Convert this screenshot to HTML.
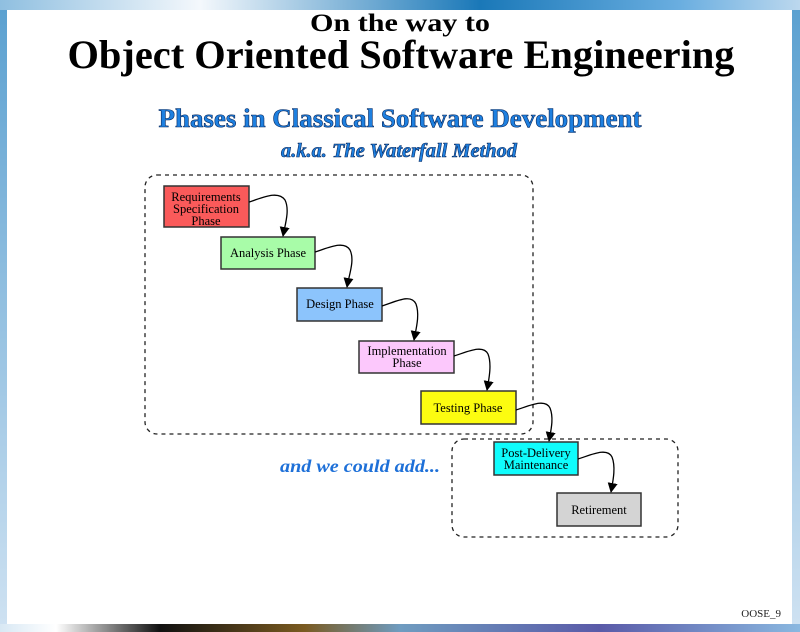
<!DOCTYPE html>
<html><head><meta charset="utf-8"><style>
html,body{margin:0;padding:0;width:800px;height:632px;overflow:hidden;background:#fff}
</style></head><body>
<svg width="800" height="632" viewBox="0 0 800 632" xmlns="http://www.w3.org/2000/svg" font-family="Liberation Serif, serif">
<defs>
<linearGradient id="top" x1="0" x2="1" y1="0" y2="0">
<stop offset="0" stop-color="#8fbfe0"/><stop offset="0.25" stop-color="#f4f8fc"/><stop offset="0.6" stop-color="#1a78b8"/><stop offset="0.85" stop-color="#6aaee0"/><stop offset="1" stop-color="#bcd8ee"/></linearGradient>
<linearGradient id="bot" x1="0" x2="1" y1="0" y2="0">
<stop offset="0" stop-color="#d8e8f4"/><stop offset="0.07" stop-color="#ffffff"/><stop offset="0.2" stop-color="#111"/><stop offset="0.38" stop-color="#7a5a20"/><stop offset="0.5" stop-color="#6f9cc0"/><stop offset="0.75" stop-color="#5a5aa8"/><stop offset="1" stop-color="#8ab8e0"/></linearGradient>
<linearGradient id="side" x1="0" x2="0" y1="0" y2="1">
<stop offset="0" stop-color="#5aa0d0"/><stop offset="1" stop-color="#cfe2f2"/></linearGradient>
<marker id="ah" markerWidth="10" markerHeight="10" refX="9" refY="5" orient="auto" markerUnits="userSpaceOnUse"><path d="M0,0 L10,5 L0,10 z" fill="#000"/></marker>
</defs>
<rect x="0" y="0" width="800" height="632" fill="url(#side)"/>
<rect x="0" y="0" width="800" height="10" fill="url(#top)"/>
<rect x="0" y="624" width="800" height="8" fill="url(#bot)"/>
<rect x="7" y="10" width="785" height="614" fill="#fff"/>

<text x="400" y="31" text-anchor="middle" font-size="25" font-weight="bold" textLength="180" lengthAdjust="spacingAndGlyphs">On the way to</text>
<text x="401" y="68" text-anchor="middle" font-size="40" font-weight="bold" textLength="667" lengthAdjust="spacingAndGlyphs">Object Oriented Software Engineering</text>

<g font-weight="bold" fill="#1e80e0" stroke="#0a2a60" stroke-width="0.6">
<text x="400" y="127" text-anchor="middle" font-size="26" textLength="483" lengthAdjust="spacingAndGlyphs">Phases in Classical Software Development</text>
<text x="399" y="157" text-anchor="middle" font-size="20" font-style="italic" textLength="236" lengthAdjust="spacingAndGlyphs">a.k.a. The Waterfall Method</text>
</g>
<text x="360" y="472" text-anchor="middle" font-size="18" font-weight="bold" font-style="italic" fill="#1e70d8" textLength="160" lengthAdjust="spacingAndGlyphs">and we could add...</text>

<g fill="none" stroke="#222" stroke-width="1.3" stroke-dasharray="4,4">
<rect x="145" y="175" width="388" height="259" rx="12"/>
<rect x="452" y="439" width="226" height="98" rx="12"/>
</g>

<g stroke="#333" stroke-width="1.5" font-size="12.5" text-anchor="middle" fill="#000">
<rect x="164" y="186" width="85" height="41" fill="#fa5a5a"/>
<rect x="221" y="237" width="94" height="32" fill="#a8fca8"/>
<rect x="297" y="288" width="85" height="33" fill="#8cc4fc"/>
<rect x="359" y="341" width="95" height="32" fill="#fcc8fc"/>
<rect x="421" y="391" width="95" height="33" fill="#fcfc10"/>
<rect x="494" y="442" width="84" height="33" fill="#10fcfc"/>
<rect x="557" y="493" width="84" height="33" fill="#d4d4d4"/>
</g>
<g font-size="12.5" text-anchor="middle" fill="#000">
<text x="206" y="201">Requirements</text>
<text x="206" y="213">Specification</text>
<text x="206" y="225">Phase</text>
<text x="268" y="257">Analysis Phase</text>
<text x="340" y="308">Design Phase</text>
<text x="407" y="355">Implementation</text>
<text x="407" y="367">Phase</text>
<text x="468" y="412">Testing Phase</text>
<text x="536" y="457">Post-Delivery</text>
<text x="536" y="469">Maintenance</text>
<text x="599" y="514">Retirement</text>
</g>

<g fill="none" stroke="#000" stroke-width="1.3" marker-end="url(#ah)">
<path d="M249,202 C262,198 278,190 285,200 C290,210 285,225 283,236"/>
<path d="M315,252 C328,248 344,240 350,250 C355,260 349,275 347,287"/>
<path d="M382,306 C395,302 411,293 416,304 C420,315 416,329 414,340"/>
<path d="M454,356 C467,352 483,344 488,354 C492,364 489,379 487,390"/>
<path d="M516,410 C529,406 545,398 550,408 C554,418 551,430 549,441"/>
<path d="M578,459 C591,455 607,447 612,457 C616,467 613,481 611,492"/>
</g>

<text x="781" y="617" text-anchor="end" font-size="11" fill="#222">OOSE_9</text>
</svg>
</body></html>
